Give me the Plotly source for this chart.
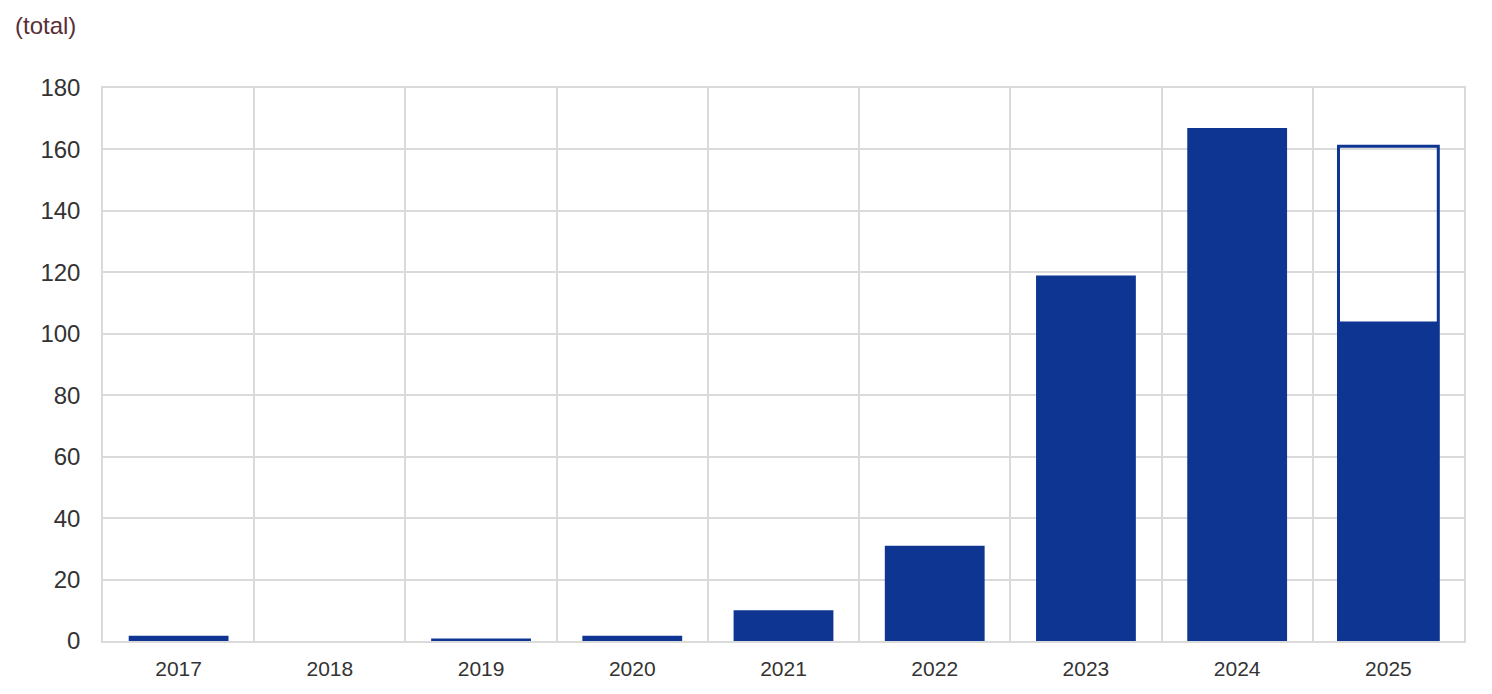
import plotly.graph_objects as go

years = ["2017", "2018", "2019", "2020", "2021", "2022", "2023", "2024", "2025"]
actual = [1.7, 0, 0.8, 1.7, 10, 31, 119, 167, 104]
projected_year = ["2025"]
projected_total = [161]

BLUE = "#0E3591"
W, H = 1480, 680

fig = go.Figure()
fig.add_trace(go.Bar(x=years, y=actual, marker=dict(color=BLUE, line=dict(width=0)),
                     showlegend=False, cliponaxis=False))
fig.add_trace(go.Bar(x=projected_year, y=projected_total,
                     marker=dict(color="rgba(0,0,0,0)", line=dict(color=BLUE, width=3)),
                     showlegend=False, cliponaxis=False))

fig.update_layout(
    width=W, height=H,
    barmode="overlay", bargap=0.34,
    plot_bgcolor="white", paper_bgcolor="white",
    margin=dict(l=95, r=24, t=80, b=47, autoexpand=False),
    font=dict(family="Liberation Sans, Arial", size=22, color="#333333"),
    title=dict(text="(total)", xref="container", yref="container",
               x=7 / W, y=1 - 18 / H, xanchor="left", yanchor="middle",
               font=dict(size=24, color="#5A2E36")),
)

fig.update_xaxes(type="category", tickson="boundaries", showgrid=True, gridcolor="#DADADA",
                 gridwidth=1.5, ticks="", showline=True, linecolor="#DADADA", linewidth=1.5,
                 mirror=True, tickfont=dict(size=21, color="#333333"), ticklabelstandoff=8,
                 automargin=False)
fig.update_yaxes(range=[0, 180], dtick=20, showgrid=True, gridcolor="#DADADA", gridwidth=1.5,
                 ticks="", zeroline=False, showline=True, linecolor="#DADADA", linewidth=1.5,
                 mirror=True, tickfont=dict(size=24, color="#333333"), ticklabelstandoff=16,
                 automargin=False)

fig.write_html("out.html")
